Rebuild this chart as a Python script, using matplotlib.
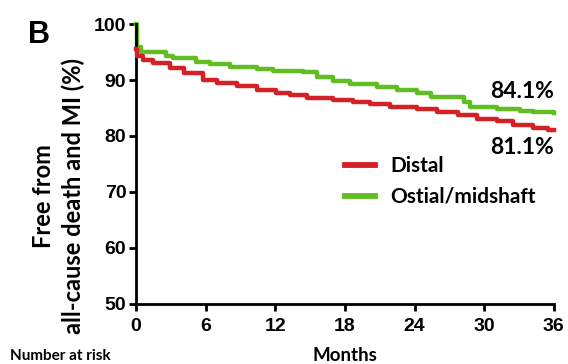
import matplotlib.pyplot as plt
from matplotlib.lines import Line2D

# Kaplan-Meier style step data (months, % free from event)
months_distal = [0, 0.05, 0.6, 1.5, 2.9, 4.1, 5.8, 7.0, 8.7, 10.4, 12.1,
                 13.3, 14.7, 17.0, 18.7, 20.2, 21.9, 24.2, 25.9, 27.7,
                 29.4, 31.1, 32.5, 34.2, 35.5, 36]
surv_distal = [95.6, 94.3, 93.6, 93.0, 92.1, 91.2, 90.0, 89.4, 89.0, 88.2,
               87.6, 87.3, 86.7, 86.4, 86.0, 85.7, 85.2, 84.9, 84.3, 83.75,
               83.0, 82.6, 82.0, 81.4, 81.1, 81.1]

months_ostial = [0, 0.05, 0.4, 2.6, 3.2, 5.2, 6.4, 8.1, 10.4, 11.8, 14.4,
                 15.6, 17.0, 18.4, 20.8, 22.5, 24.2, 25.4, 28.3, 28.8, 31.1,
                 33.1, 34.2, 36]
surv_ostial = [100, 95.9, 95.05, 94.3, 93.9, 93.3, 92.9, 92.3, 91.9, 91.6,
               91.4, 90.6, 89.9, 89.3, 88.8, 88.3, 87.6, 87.0, 86.0, 85.2,
               84.9, 84.5, 84.2, 84.1]

final_distal = 81.1
final_ostial = 84.1

x_ticks = [0, 6, 12, 18, 24, 30, 36]
y_ticks = [50, 60, 70, 80, 90, 100]

red = "#d42128"
green = "#62bd24"

fig = plt.figure(figsize=(5.68, 3.64), dpi=100)
ax = fig.add_axes([0.2394, 0.165, 0.7357, 0.769])

ax.plot(months_distal, surv_distal, drawstyle="steps-post", color=red,
        linewidth=3.2, clip_on=False, zorder=3)
ax.plot(months_ostial, surv_ostial, drawstyle="steps-post", color=green,
        linewidth=3.2, clip_on=False, zorder=2)

ax.set_xlim(0, 36)
ax.set_ylim(50, 100)
ax.set_xticks(x_ticks)
ax.set_yticks(y_ticks)

for side in ("top", "right"):
    ax.spines[side].set_visible(False)
for side in ("left", "bottom"):
    ax.spines[side].set_linewidth(2.0)
ax.tick_params(direction="out", length=5, width=2.0)
ax.tick_params(axis="x", pad=5)
ax.tick_params(axis="y", pad=2)
for lbl in ax.get_xticklabels() + ax.get_yticklabels():
    lbl.set_fontfamily("Liberation Sans")
    lbl.set_fontweight("bold")
    lbl.set_fontsize(14)

ax.set_ylabel("Free from\nall-cause death and MI (%)", fontsize=17,
              fontweight="bold", family="Lato", linespacing=1.32)
ax.yaxis.set_label_coords(-0.122, 0.385)
ax.set_xlabel("Months", fontsize=13.5, fontweight="bold", family="Lato")
ax.xaxis.set_label_coords(0.5, -0.155)

# end-of-follow-up labels
ax.text(36, final_ostial + 2.0, f"{final_ostial}%", ha="right", va="bottom",
        fontsize=16.5, fontweight="bold", family="Lato")
ax.text(36, final_distal - 1.3, f"{final_distal}%", ha="right", va="top",
        fontsize=16.5, fontweight="bold", family="Lato")

handles = [Line2D([], [], color=red, linewidth=4.2),
           Line2D([], [], color=green, linewidth=4.2)]
ax.legend(handles, ["Distal", "Ostial/midshaft"], loc="upper left",
          bbox_to_anchor=(0.455, 0.594), frameon=False, handlelength=1.45,
          handletextpad=0.75, labelspacing=0.5,
          prop={"family": "Lato", "weight": "bold", "size": 15})

fig.text(0.049, 0.945, "B", fontsize=22, fontweight="bold",
         family="Liberation Sans", va="top")
fig.text(0.017, 0.004, "Number at risk", fontsize=11, fontweight="bold",
         family="Lato", va="bottom")

fig.savefig("out.png", dpi=100)
